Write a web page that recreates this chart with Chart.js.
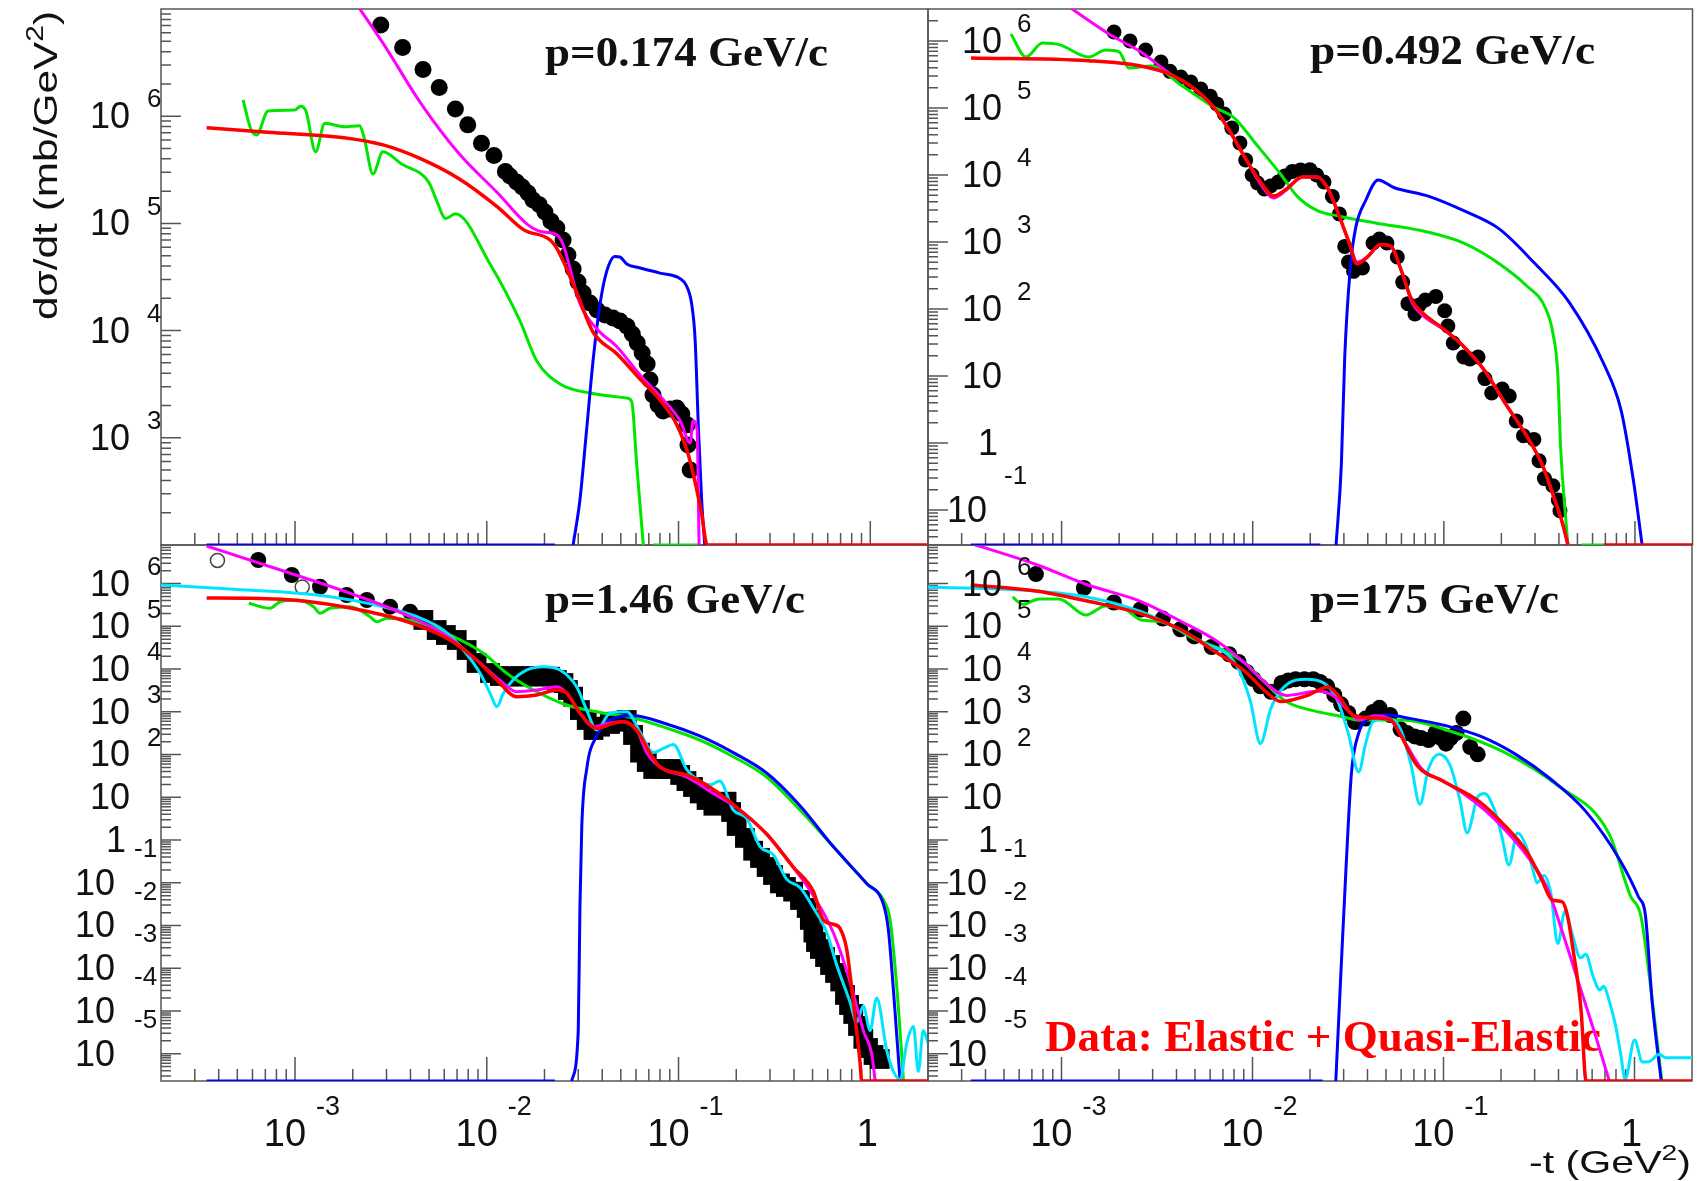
<!DOCTYPE html>
<html>
<head>
<meta charset="utf-8">
<script src="https://cdn.jsdelivr.net/npm/chart.js@4.4.0/dist/chart.umd.min.js"></script>
<style>
  body { margin: 0; background: #fff; }
  #wrap { position: relative; width: 1700px; height: 1181px; }
  #wrap canvas { position: absolute; left: 0; top: 0; }
</style>
</head>
<body>
<div id="wrap">
  <canvas id="bl" width="1700" height="1181"></canvas>
  <canvas id="br" width="1700" height="1181"></canvas>
  <canvas id="tl" width="1700" height="1181"></canvas>
  <canvas id="tr" width="1700" height="1181"></canvas>
</div>
<script>
// -t range shared by all four pads
const X_MIN = 2e-4, X_MAX = 2;
const X_EXPS = [-3, -2, -1, 0];

// ---- p = 0.174 GeV/c ----
const tlDataT = [2.8e-3, 3.64e-3, 4.65e-3, 5.65e-3, 6.86e-3, 7.96e-3, 9.38e-3, 1.09e-2, 1.25e-2, 1.32e-2, 1.43e-2, 1.53e-2, 1.64e-2, 1.74e-2, 1.88e-2, 2.01e-2, 2.16e-2, 2.32e-2, 2.5e-2, 2.65e-2, 2.82e-2, 2.99e-2, 3.18e-2, 3.45e-2, 3.76e-2, 4.13e-2, 4.55e-2, 4.95e-2, 5.39e-2, 5.74e-2, 6.09e-2, 6.46e-2, 6.86e-2, 7.1e-2, 7.36e-2, 7.82e-2, 8.3e-2, 9.02e-2, 9.8e-2, 0.104, 0.111, 0.112, 0.115];
const tlDataV = [7.1e6, 4.38e6, 2.72e6, 1.85e6, 1.17e6, 8.3e5, 5.6e5, 4.3e5, 3.05e5, 2.77e5, 2.43e5, 2.19e5, 1.92e5, 1.65e5, 1.49e5, 1.28e5, 1.05e5, 9.06e4, 7.0e4, 5.07e4, 3.76e4, 2.84e4, 2.24e4, 1.81e4, 1.56e4, 1.4e4, 1.31e4, 1.23e4, 1.1e4, 9.3e3, 7.66e3, 6.18e3, 4.88e3, 3.46e3, 2.51e3, 2.02e3, 1.78e3, 1.86e3, 1.9e3, 1.67e3, 1.32e3, 857, 501];
const tlRedT = [3.46e-4, 7.2e-4, 1.8e-3, 2.88e-3, 4.54e-3, 7.2e-3, 1.14e-2, 1.56e-2, 2.14e-2, 2.35e-2, 2.95e-2, 3.58e-2, 4.78e-2, 6.3e-2, 8.0e-2, 9.8e-2, 0.112, 0.122, 0.132, 0.141, 2.0];
const tlRedV = [7.8e5, 7.1e5, 6.3e5, 5.4e5, 4.0e5, 2.6e5, 1.42e5, 8.7e4, 7.0e4, 5.6e4, 2.24e4, 9.7e3, 6.05e3, 3.54e3, 2.25e3, 1.32e3, 713, 387, 195, 100, 100];
const tlMagT = [1.94e-3, 2.87e-3, 4.54e-3, 7.16e-3, 1.14e-2, 1.64e-2, 1.97e-2, 2.27e-2, 2.48e-2, 3.06e-2, 3.74e-2, 4.76e-2, 6.3e-2, 8.0e-2, 0.102, 0.115, 0.119, 0.125, 0.128];
const tlMagV = [1.35e7, 4.83e6, 1.31e6, 4.48e5, 1.92e5, 9.7e4, 8.3e4, 8.0e4, 6.6e4, 1.79e4, 1.04e4, 7.1e3, 3.85e3, 2.45e3, 1.44e3, 894, 1.44e3, 1.18e3, 100];
const tlGreenT = [5.36e-4, 5.87e-4, 6.3e-4, 7.23e-4, 9.96e-4, 1.07e-3, 1.14e-3, 1.28e-3, 1.43e-3, 1.81e-3, 2.17e-3, 2.28e-3, 2.55e-3, 2.87e-3, 3.6e-3, 4.98e-3, 5.46e-3, 6.11e-3, 6.86e-3, 1.04e-2, 1.49e-2, 1.82e-2, 2.41e-2, 3.45e-2, 5.37e-2, 5.7e-2, 6.05e-2, 6.55e-2, 7.0e-2, 7.36e-2, 0.129];
const tlGreenV = [1.42e6, 7.66e5, 6.68e5, 1.12e6, 1.14e6, 1.24e6, 1.12e6, 4.66e5, 8.6e5, 7.97e5, 8.15e5, 6.58e5, 2.89e5, 4.66e5, 3.58e5, 2.43e5, 1.65e5, 1.11e5, 1.23e5, 4.18e4, 1.23e4, 5.24e3, 3.18e3, 2.62e3, 2.35e3, 2.17e3, 570, 100, null, 100, 100];
const tlBlueT = [3.46e-4, 2.27e-2, 2.5e-2, 2.82e-2, 3.06e-2, 3.32e-2, 3.6e-2, 3.9e-2, 4.22e-2, 4.66e-2, 4.95e-2, 5.37e-2, 6.3e-2, 8.0e-2, 0.102, 0.110, 0.117, 0.122, 0.127, 0.132, 0.137];
const tlBlueV = [100, 100, null, 100, 263, 1.22e3, 5.67e3, 1.79e4, 3.57e4, 4.92e4, 4.86e4, 4.18e4, 3.84e4, 3.44e4, 3.05e4, 2.62e4, 1.79e4, 8.35e3, 1.22e3, 263, 100];

// ---- p = 0.492 GeV/c ----
const trDataT = [1.88e-3, 2.28e-3, 2.75e-3, 3.31e-3, 3.69e-3, 4.21e-3, 4.74e-3, 5.35e-3, 6.0e-3, 6.49e-3, 7.1e-3, 7.77e-3, 8.57e-3, 9.19e-3, 9.93e-3, 1.06e-2, 1.15e-2, 1.24e-2, 1.36e-2, 1.47e-2, 1.61e-2, 1.78e-2, 1.99e-2, 2.16e-2, 2.36e-2, 2.61e-2, 2.84e-2, 3.03e-2, 3.17e-2, 3.37e-2, 3.75e-2, 4.26e-2, 4.6e-2, 5.04e-2, 5.71e-2, 6.09e-2, 6.49e-2, 7.06e-2, 7.44e-2, 8.0e-2, 9.08e-2, 0.101, 0.105, 0.112, 0.127, 0.137, 0.151, 0.164, 0.178, 0.202, 0.22, 0.239, 0.261, 0.296, 0.315, 0.336, 0.372, 0.397, 0.405];
const trDataV = [1.36e6, 9.98e5, 7.33e5, 4.85e5, 3.52e5, 2.9e5, 2.44e5, 1.92e5, 1.49e5, 1.15e5, 8.13e4, 5.02e4, 3.0e4, 1.67e4, 9.98e3, 7.59e3, 6.17e3, 6.84e3, 7.85e3, 9.64e3, 1.13e4, 1.19e4, 1.2e4, 9.98e3, 7.85e3, 4.79e3, 2.61e3, 859, 502, 364, 408, 964, 1.11e3, 964, 597, 252, 120, 84.1, 115, 136, 154, 94.2, 55.7, 31.0, 19.2, 17.9, 19.2, 9.14, 5.57, 6.38, 5.02, 2.13, 1.28, 1.13, 0.543, 0.294, 0.23, 0.141, 0.0975];
const trRedT = [3.36e-4, 1.38e-3, 2.59e-3, 3.78e-3, 4.85e-3, 6.24e-3, 7.54e-3, 9.08e-3, 1.1e-2, 1.29e-2, 1.5e-2, 1.82e-2, 2.18e-2, 2.48e-2, 2.81e-2, 3.2e-2, 3.52e-2, 3.98e-2, 4.66e-2, 5.29e-2, 6.0e-2, 6.8e-2, 7.7e-2, 9.9e-2, 0.127, 0.164, 0.21, 0.271, 0.326, 0.381, 0.42, 0.446, 0.5, 0.687, 2.0];
const trRedV = [5.58e5, 5.07e5, 4.23e5, 3.1e5, 2.02e5, 1.03e5, 4.62e4, 1.85e4, 7.85e3, 4.85e3, 6.17e3, 9.33e3, 9.33e3, 6.17e3, 2.61e3, 964, 469, 597, 914, 859, 369, 136, 88.5, 50.9, 27.6, 11.9, 3.86, 1.28, 0.485, 0.141, 0.0597, 0.03, null, 0.03, 0.03];
const trMagT = [9.7e-4, 1.77e-3, 2.59e-3, 3.78e-3, 4.85e-3, 6.24e-3, 7.54e-3, 9.08e-3, 1.1e-2, 1.29e-2, 1.5e-2, 1.82e-2, 2.18e-2, 2.48e-2, 2.81e-2, 3.2e-2, 3.52e-2, 3.98e-2, 4.66e-2, 5.29e-2, 6.0e-2, 6.8e-2, 7.7e-2, 9.9e-2, 0.127, 0.164, 0.21, 0.271, 0.326, 0.381, 0.42, 0.446];
const trMagV = [4.08e6, 1.27e6, 6.89e5, 3.1e5, 2.02e5, 1.03e5, 4.62e4, 1.85e4, 7.3e3, 4.53e3, 5.96e3, 9.33e3, 9.33e3, 6.17e3, 2.61e3, 964, 502, 597, 914, 859, 369, 127, 81.3, 50, 27.6, 11.9, 3.86, 1.28, 0.485, 0.141, 0.0597, 0.03];
const trGreenT = [5.43e-4, 6.52e-4, 7.93e-4, 9.7e-4, 1.39e-3, 1.7e-3, 2.0e-3, 2.25e-3, 2.94e-3, 4.26e-3, 6.24e-3, 8.02e-3, 1.03e-2, 1.41e-2, 1.71e-2, 2.18e-2, 2.81e-2, 4.38e-2, 8.18e-2, 0.127, 0.185, 0.271, 0.338, 0.371, 0.395, 0.408, 0.434, 0.446, 0.49, 0.524, 0.687];
const trGreenV = [1.27e6, 5.77e5, 9.33e5, 8.83e5, 5.77e5, 7.33e5, 6.89e5, 3.96e5, 4.23e5, 2.15e5, 1.03e5, 7.08e4, 3.0e4, 9.98e3, 4.79e3, 2.93e3, 2.44e3, 1.92e3, 1.41e3, 964, 525, 222, 107, 45.3, 10.3, 0.9, 0.0759, 0.03, null, 0.03, 0.03];
const trBlueT = [3.35e-4, 2.26e-2, 2.5e-2, 2.73e-2, 2.91e-2, 3.03e-2, 3.24e-2, 3.45e-2, 3.91e-2, 4.53e-2, 5.47e-2, 8.35e-2, 0.127, 0.194, 0.296, 0.451, 0.687, 0.847, 0.984, 1.09];
const trBlueV = [0.03, 0.03, null, 0.03, 0.485, 19.2, 408, 1.58e3, 4.23e3, 8.41e3, 6.5e3, 4.79e3, 2.93e3, 1.58e3, 493, 128, 15.1, 3.03, 0.261, 0.03];

// ---- p = 1.46 GeV/c ----
const blDotT = [6.43e-4, 9.62e-4, 1.35e-3, 1.86e-3, 2.37e-3, 3.13e-3, 3.98e-3];
const blDotV = [3.56e6, 1.59e6, 8.45e5, 5.41e5, 4.13e5, 2.88e5, 2.2e5];
const blBandT = [4.67e-3, 5.48e-3, 6.12e-3, 6.97e-3, 7.85e-3, 8.85e-3, 1.04e-2, 1.17e-2, 1.32e-2, 1.49e-2, 1.68e-2, 1.9e-2, 2.14e-2, 2.32e-2, 2.51e-2, 2.65e-2, 2.82e-2, 3.06e-2, 3.32e-2, 3.6e-2, 3.9e-2, 4.39e-2, 4.76e-2, 5.37e-2, 5.79e-2, 6.3e-2, 6.83e-2, 7.38e-2, 8.3e-2, 9.4e-2, 0.102, 0.11, 0.119, 0.129, 0.14, 0.152, 0.164, 0.178, 0.188, 0.201, 0.222, 0.245, 0.266, 0.288, 0.311, 0.338, 0.363, 0.396, 0.43, 0.466, 0.484, 0.505, 0.521, 0.546, 0.581, 0.617, 0.655, 0.697, 0.738, 0.775, 0.815, 0.863, 0.92, 0.973, 1.04, 1.12];
const blBandV = [1.41e5, 8.2e4, 6.27e4, 4.79e4, 2.79e4, 1.39e4, 8.09e3, 6.89e3, 6.64e3, 6.89e3, 6.64e3, 6.89e3, 6.64e3, 5.55e3, 4.72e3, 3.24e3, 2.26e3, 1.1e3, 643, 375, 449, 519, 587, 643, 287, 111, 67, 45.9, 45.9, 45.9, 33.3, 24.0, 17.4, 12.3, 8.65, 6.35, 7.35, 7.89, 4.53, 2.13, 1.12, 0.562, 0.38, 0.234, 0.152, 0.0966, 0.0796, 0.0621, 0.0395, 0.0257, 0.0135, 0.00686, 0.00411, 0.00282, 0.00183, 0.00119, 7.74e-4, 4.9e-4, 2.37e-4, 1.38e-4, 8.51e-5, 4.46e-5, 2.23e-5, 1.36e-5, 9.33e-6, 7.53e-6];
const blOpenT = [3.94e-4, 1.09e-3];
const blOpenV = [3.49e6, 8.32e5];
const blRedT = [3.46e-4, 5.82e-4, 1.14e-3, 2.88e-3, 4.32e-3, 6.43e-3, 8.85e-3, 1.13e-2, 1.43e-2, 1.82e-2, 2.32e-2, 2.61e-2, 3.06e-2, 3.74e-2, 4.57e-2, 5.15e-2, 6.05e-2, 7.1e-2, 8.0e-2, 0.11, 0.152, 0.209, 0.288, 0.396, 0.505, 0.569, 0.641, 0.695, 0.753, 0.815, 0.885, 0.902, 2.0];
const blRedV = [4.6e5, 4.53e5, 3.85e5, 1.84e5, 1.07e5, 4.79e4, 1.63e4, 5.55e3, 2.26e3, 2.47e3, 3.24e3, 2.75e3, 938, 411, 538, 587, 375, 109, 51.2, 33.3, 15.3, 5.05, 1.38, 0.234, 0.0621, 0.0135, 0.0107, 0.00857, 0.00282, 1.62e-4, 6.07e-6, 2.3e-6, 2.3e-6];
const blMagT = [3.46e-4, 7.23e-4, 1.94e-3, 3.98e-3, 6.43e-3, 8.85e-3, 1.22e-2, 1.43e-2, 1.82e-2, 2.32e-2, 2.61e-2, 3.06e-2, 3.6e-2, 4.39e-2, 5.15e-2, 6.05e-2, 6.83e-2, 8.0e-2, 0.11, 0.152, 0.209, 0.288, 0.396, 0.505, 0.641, 0.784, 0.92, 1.02, 1.06];
const blMagV = [7.59e6, 2.58e6, 5.93e5, 1.68e5, 5.25e4, 1.63e4, 4.65e3, 2.96e3, 3.24e3, 3.87e3, 2.75e3, 938, 449, 547, 587, 375, 111, 51.2, 29.9, 12.3, 5.05, 1.38, 0.234, 0.0499, 0.00686, 4.9e-4, 3.48e-5, 9.33e-6, 2.3e-6];
const blGreenT = [5.74e-4, 7.4e-4, 8.35e-4, 1.02e-3, 1.25e-3, 1.35e-3, 1.52e-3, 1.94e-3, 2.46e-3, 2.67e-3, 3.01e-3, 4.32e-3, 6.43e-3, 9.6e-3, 1.27e-2, 1.75e-2, 2.61e-2, 3.9e-2, 5.81e-2, 8.67e-2, 0.129, 0.193, 0.288, 0.43, 0.641, 0.957, 1.17, 1.27, 1.35, 1.43, 1.49];
const blGreenV = [3.46e5, 2.64e5, 3.77e5, 4.13e5, 2.88e5, 2.02e5, 2.64e5, 2.88e5, 1.68e5, 1.28e5, 1.54e5, 1.28e5, 6.27e4, 2.34e4, 7.96e3, 3.24e3, 1.44e3, 964, 716, 418, 219, 89.1, 29.9, 5.05, 0.702, 0.0966, 0.04, 0.0135, 9.6e-4, 3.48e-5, 2.3e-6];
const blBlueT = [3.46e-4, 2.27e-2, 2.5e-2, 2.77e-2, 3.0e-2, 3.06e-2, 3.13e-2, 3.32e-2, 3.74e-2, 4.39e-2, 5.81e-2, 8.67e-2, 0.129, 0.193, 0.288, 0.43, 0.641, 0.957, 1.17, 1.24, 1.32, 1.43];
const blBlueV = [2.3e-6, 2.3e-6, null, 2.3e-6, 3.48e-5, 0.0257, 2.13, 45.9, 272, 643, 807, 519, 272, 111, 37, 6.35, 0.702, 0.0966, 0.0318, 0.00857, 3.15e-4, 2.3e-6];
const blCyanT = [2.0e-4, 4.56e-4, 1.3e-3, 2.88e-3, 4.32e-3, 5.93e-3, 7.55e-3, 9.23e-3, 1.04e-2, 1.13e-2, 1.22e-2, 1.37e-2, 1.61e-2, 1.97e-2, 2.41e-2, 2.94e-2, 3.32e-2, 3.74e-2, 4.39e-2, 5.37e-2, 6.3e-2, 7.38e-2, 8.32e-2, 9.4e-2, 0.11, 0.129, 0.146, 0.164, 0.193, 0.226, 0.266, 0.312, 0.366, 0.43, 0.505, 0.593, 0.668, 0.784, 0.849, 0.92, 0.998, 1.08, 1.22, 1.32, 1.43, 1.55, 1.68, 1.78, 1.89, 2.0];
const blCyanV = [9.27e5, 7.48e5, 5.41e5, 2.88e5, 1.68e5, 8.2e4, 2.79e4, 7.96e3, 2.71e3, 1.32e3, 2.71e3, 5.55e3, 9.5e3, 1.14e4, 9.5e3, 3.87e3, 1.1e3, 375, 923, 1.0e3, 337, 111, 139, 173, 45.9, 24, 19.4, 24, 5.05, 3.28, 0.702, 0.452, 0.122, 0.0776, 0.0257, 0.00686, 0.00119, 1.62e-4, 5.41e-5, 1.31e-4, 3.48e-5, 2.01e-4, 1.16e-5, 3.84e-6, 2.47e-6, 1.78e-5, 4.34e-5, 3.84e-6, 3.48e-5, 1.78e-5];

// ---- p = 175 GeV/c ----
const brDataT = [7.35e-4, 1.31e-3, 1.88e-3, 2.59e-3, 3.39e-3, 4.19e-3, 4.95e-3, 6.11e-3, 7.55e-3, 8.45e-3, 9.33e-3, 1.01e-2, 1.1e-2, 1.25e-2, 1.42e-2, 1.54e-2, 1.68e-2, 1.87e-2, 2.08e-2, 2.26e-2, 2.46e-2, 2.68e-2, 2.91e-2, 3.17e-2, 3.44e-2, 3.91e-2, 4.28e-2, 4.62e-2, 5.25e-2, 5.96e-2, 6.44e-2, 7.06e-2, 7.62e-2, 8.35e-2, 9.08e-2, 9.69e-2, 0.103, 0.109, 0.117, 0.127, 0.138, 0.151];
const brDataV = [1.67e6, 7.89e5, 3.61e5, 2.48e5, 1.52e5, 8.53e4, 5.81e4, 3.28e4, 2.22e4, 1.47e4, 8.55e3, 5.86e3, 3.94e3, 2.94e3, 4.74e3, 5.41e3, 5.77e3, 5.77e3, 5.77e3, 4.99e3, 3.94e3, 2.47e3, 1.5e3, 938, 578, 693, 991, 1.24e3, 841, 390, 319, 266, 244, 219, 321, 244, 180, 244, 321, 693, 150, 101];
const brRedT = [3.35e-4, 7.36e-4, 1.38e-3, 2.59e-3, 4.26e-3, 6.24e-3, 9.08e-3, 1.17e-2, 1.41e-2, 1.94e-2, 2.48e-2, 2.81e-2, 3.4e-2, 4.38e-2, 5.29e-2, 6.0e-2, 7.23e-2, 9.93e-2, 0.154, 0.21, 0.271, 0.326, 0.371, 0.42, 0.446, 0.476, 0.525, 0.558, 2.0];
const brRedV = [9.27e5, 6.71e5, 3.85e5, 1.99e5, 8.2e4, 2.73e4, 9.02e3, 3.02e3, 1.74e3, 2.42e3, 3.81e3, 2.42e3, 807, 716, 643, 272, 57, 24, 7.89, 2.13, 0.562, 0.121, 0.0395, 0.0355, 0.0167, 0.00285, 1.05e-4, 2.3e-6, 2.3e-6];
const brMagT = [2.92e-4, 7.36e-4, 1.38e-3, 2.59e-3, 4.26e-3, 6.64e-3, 9.08e-3, 1.17e-2, 1.5e-2, 2.18e-2, 2.64e-2, 3.2e-2, 3.62e-2, 4.38e-2, 5.29e-2, 6.37e-2, 7.71e-2, 9.93e-2, 0.127, 0.164, 0.21, 0.271, 0.348, 0.42, 0.507, 0.613, 0.738];
const brMagV = [1.05e7, 2.8e6, 9.27e5, 3.85e5, 1.28e5, 4.26e4, 1.41e4, 4.72e3, 2.42e3, 3.02e3, 2.42e3, 1.01e3, 643, 807, 643, 173, 45.9, 24.0, 12.3, 5.05, 1.72, 0.452, 0.0776, 0.00686, 4.9e-4, 3.48e-5, 2.3e-6];
const brGreenT = [5.55e-4, 6.25e-4, 7.64e-4, 9.7e-4, 1.34e-3, 1.7e-3, 2.17e-3, 2.59e-3, 3.33e-3, 4.85e-3, 7.05e-3, 9.08e-3, 1.17e-2, 1.5e-2, 2.18e-2, 2.81e-2, 3.62e-2, 6.0e-2, 0.112, 0.21, 0.395, 0.738, 0.951, 1.08, 1.22, 1.39];
const brGreenV = [4.85e5, 3.28e5, 4.39e5, 4.39e5, 1.84e5, 2.99e5, 2.47e5, 1.43e5, 1.28e5, 5.33e4, 2.73e4, 1.41e4, 4.72e3, 1.74e3, 1.01e3, 807, 643, 643, 337, 111, 19.1, 1.36, 0.0498, 0.0167, 3.15e-4, 2.3e-6];
const brBlueT = [3.35e-4, 2.33e-2, 2.5e-2, 2.73e-2, 2.91e-2, 3.1e-2, 3.3e-2, 3.6e-2, 4.08e-2, 5.03e-2, 6.76e-2, 0.103, 0.157, 0.239, 0.365, 0.556, 0.847, 1.05, 1.14, 1.24, 1.38];
const brBlueV = [2.3e-6, 2.3e-6, null, 2.3e-6, 9.82e-4, 0.316, 39.1, 319, 693, 841, 693, 473, 266, 101, 26.4, 4.68, 0.316, 0.0465, 0.0176, 1.46e-4, 2.3e-6];
const brCyanT = [2.0e-4, 7.36e-4, 1.38e-3, 2.59e-3, 3.78e-3, 5.48e-3, 8.22e-3, 9.73e-3, 1.1e-2, 1.25e-2, 1.55e-2, 1.91e-2, 2.36e-2, 2.79e-2, 3.17e-2, 3.6e-2, 3.91e-2, 4.26e-2, 5.03e-2, 5.96e-2, 6.76e-2, 7.52e-2, 8.35e-2, 9.47e-2, 0.108, 0.122, 0.133, 0.151, 0.164, 0.186, 0.202, 0.22, 0.244, 0.272, 0.296, 0.308, 0.336, 0.365, 0.397, 0.432, 0.47, 0.522, 0.556, 0.605, 0.659, 0.687, 0.745, 0.796, 0.847, 0.893, 1.0, 1.1, 1.19, 1.35, 1.46, 2.0];
const brCyanV = [8.32e5, 6.71e5, 4.81e5, 2.22e5, 1.02e5, 4.26e4, 1.24e4, 1.82e3, 180, 1.24e3, 4.74e3, 5.77e3, 4.74e3, 1.82e3, 319, 39.1, 180, 578, 693, 390, 57, 6.85, 46.9, 101, 57, 8.32, 1.47, 10.2, 12.2, 4.68, 1.22, 0.261, 1.47, 0.687, 0.179, 0.0993, 0.147, 0.0558, 0.00378, 0.0214, 0.00671, 0.00175, 0.00212, 6.7e-4, 3.1e-4, 3.77e-4, 1.46e-4, 4.53e-5, 9.7e-6, 2.5e-6, 2.09e-5, 6.41e-6, 6.5e-6, 9.7e-6, 8.0e-6, 8.0e-6];

const RED = '#ff0000', MAG = '#ff00ff', GRN = '#00e600', BLU = '#0000ff', CYN = '#00e5ff';
const SANS = '"Liberation Sans", Arial, sans-serif';
const SERIF = '"Liberation Serif", "Times New Roman", serif';

function pts(ts, vs) {
  return ts.map((t, i) => ({ x: t, y: vs[i] }));
}

function curve(ts, vs, color, width, order) {
  return {
    data: pts(ts, vs), showLine: true, borderColor: color, backgroundColor: color,
    borderWidth: width, pointRadius: 0, pointHoverRadius: 0,
    cubicInterpolationMode: 'monotone', spanGaps: false, order: order
  };
}

function dots(ts, vs, style, r, order, hollow) {
  return {
    data: pts(ts, vs), showLine: false, pointStyle: style, pointRadius: r,
    pointBackgroundColor: hollow ? 'rgba(0,0,0,0)' : '#000',
    pointBorderColor: hollow ? '#444' : '#000', pointBorderWidth: hollow ? 1.5 : 0,
    order: order
  };
}

// text runs, optionally squeezed/stretched to a target width
function rich(ctx, segs, x, y, width) {
  let total = 0;
  segs.forEach(s => { ctx.font = s.font; s.w = ctx.measureText(s.t).width; total += s.w; });
  const sx = width ? width / total : 1;
  ctx.save();
  ctx.translate(x, y);
  ctx.scale(sx, 1);
  ctx.textAlign = 'left';
  ctx.textBaseline = 'alphabetic';
  let cx = 0;
  segs.forEach(s => { ctx.font = s.font; ctx.fillText(s.t, cx, s.dy || 0); cx += s.w; });
  ctx.restore();
}

function yTickLabel(ctx, axisX, py, e, side) {
  const left = side < 0;
  ctx.fillStyle = '#111';
  ctx.textBaseline = 'middle';
  ctx.font = '36px ' + SANS;
  ctx.textAlign = 'right';
  if (e === 0) {
    ctx.fillText('1', axisX + (left ? -35 : 70), py + 2);
    return;
  }
  const neg = e < 0;
  ctx.fillText('10', axisX + (left ? (neg ? -46 : -31) : (neg ? 59 : 74)), py + 2);
  if (e === 1) return;
  ctx.font = '26px ' + SANS;
  ctx.textAlign = 'left';
  ctx.fillText(String(e), axisX + (left ? (neg ? -27 : -14) : (neg ? 76 : 89)), py + (neg ? -33 : -16));
}

function xTickLabel(ctx, px, e) {
  ctx.fillStyle = '#111';
  ctx.textBaseline = 'middle';
  ctx.font = '38px ' + SANS;
  if (e === 0) {
    ctx.textAlign = 'center';
    ctx.fillText('1', px - 3, 1136);
    return;
  }
  ctx.textAlign = 'right';
  ctx.fillText('10', px + 11, 1136);
  ctx.font = '27px ' + SANS;
  ctx.textAlign = 'left';
  ctx.fillText(String(e), px + 21, 1108);
}

function panelPlugin(p) {
  return {
    id: 'rootPad_' + p.id,
    beforeDatasetsDraw(chart) {
      const { ctx, chartArea: a, scales: { x, y } } = chart;
      ctx.save();
      ctx.strokeStyle = '#555';
      ctx.lineWidth = 1.5;
      ctx.strokeRect(a.left, a.top, a.right - a.left, a.bottom - a.top);
      ctx.beginPath();
      for (let e = -4; e <= 1; e++) {
        for (let k = 1; k <= 9; k++) {
          const v = k * Math.pow(10, e);
          if (v <= X_MIN || v >= X_MAX) continue;
          const px = x.getPixelForValue(v);
          ctx.moveTo(px, a.bottom);
          ctx.lineTo(px, a.bottom - (k === 1 ? 24 : 12));
        }
      }
      for (let e = -7; e <= 7; e++) {
        for (let k = 1; k <= 9; k++) {
          const v = k * Math.pow(10, e);
          if (v <= p.yMin || v >= p.yMax) continue;
          const py = y.getPixelForValue(v);
          ctx.moveTo(a.left, py);
          ctx.lineTo(a.left + (k === 1 ? 20 : 10), py);
        }
      }
      ctx.stroke();
      // pad title
      ctx.fillStyle = '#111';
      rich(ctx, [{ t: p.title, font: 'bold 43px ' + SERIF }], p.titlePos[0], p.titlePos[1], p.titlePos[2]);
      if (p.note) {
        ctx.fillStyle = RED;
        rich(ctx, [{ t: 'Data: Elastic + Quasi-Elastic', font: 'bold 44px ' + SERIF }], 1045, 1051, 556);
      }
      ctx.restore();
    },
    afterDraw(chart) {
      const { ctx, chartArea: a, scales: { x, y } } = chart;
      ctx.save();
      p.exps.forEach(e => yTickLabel(ctx, a.left, y.getPixelForValue(Math.pow(10, e)), e, p.side));
      if (p.xLabels) {
        X_EXPS.forEach(e => xTickLabel(ctx, x.getPixelForValue(Math.pow(10, e)), e));
      }
      if (p.yTitle) {
        ctx.fillStyle = '#111';
        ctx.translate(57, 320);
        ctx.rotate(-Math.PI / 2);
        rich(ctx, [
          { t: 'd\u03c3/dt (mb/GeV', font: '34px ' + SANS },
          { t: '2', font: '24px ' + SANS, dy: -14 },
          { t: ')', font: '34px ' + SANS }
        ], 0, 0, 309);
        ctx.setTransform(1, 0, 0, 1, 0, 0);
      }
      if (p.xTitle) {
        ctx.fillStyle = '#111';
        rich(ctx, [
          { t: '-t (GeV', font: '32px ' + SANS },
          { t: '2', font: '22px ' + SANS, dy: -13 },
          { t: ')', font: '32px ' + SANS }
        ], 1529, 1173, 162);
      }
      ctx.restore();
    }
  };
}

const panels = [
  {
    id: 'tl', area: [161, 9, 928, 545], yMin: 1e2, yMax: 1e7, exps: [3, 4, 5, 6], side: -1,
    title: 'p=0.174 GeV/c', titlePos: [545, 66, 283], yTitle: true,
    sets: [
      curve(tlRedT, tlRedV, RED, 3.5, 1),
      curve(tlMagT, tlMagV, MAG, 3, 2),
      curve(tlBlueT, tlBlueV, BLU, 3, 4),
      curve(tlGreenT, tlGreenV, GRN, 3, 5),
      dots(tlDataT, tlDataV, 'circle', 8.5, 6)
    ]
  },
  {
    id: 'tr', area: [928, 9, 1695, 545], yMin: 0.03, yMax: 3e6, exps: [-1, 0, 1, 2, 3, 4, 5, 6], side: 1,
    title: 'p=0.492 GeV/c', titlePos: [1310, 64, 285],
    sets: [
      curve(trRedT, trRedV, RED, 3.5, 1),
      curve(trMagT, trMagV, MAG, 3, 2),
      curve(trBlueT, trBlueV, BLU, 3, 4),
      curve(trGreenT, trGreenV, GRN, 3, 5),
      dots(trDataT, trDataV, 'circle', 7.5, 6)
    ]
  },
  {
    id: 'bl', area: [161, 545, 928, 1081], yMin: 2.3e-6, yMax: 8e6,
    exps: [-5, -4, -3, -2, -1, 0, 1, 2, 3, 4, 5, 6], side: -1, xLabels: true,
    title: 'p=1.46 GeV/c', titlePos: [545, 613, 260],
    sets: [
      curve(blRedT, blRedV, RED, 3.5, 1),
      curve(blMagT, blMagV, MAG, 3, 2),
      curve(blCyanT, blCyanV, CYN, 3, 3),
      curve(blBlueT, blBlueV, BLU, 3, 4),
      curve(blGreenT, blGreenV, GRN, 3, 5),
      dots(blDotT, blDotV, 'circle', 8, 6),
      dots(blBandT, blBandV, 'rect', 14, 7),
      dots(blOpenT, blOpenV, 'circle', 7, 8, true)
    ]
  },
  {
    id: 'br', area: [928, 545, 1695, 1081], yMin: 2.3e-6, yMax: 8e6,
    exps: [-5, -4, -3, -2, -1, 0, 1, 2, 3, 4, 5, 6], side: 1, xLabels: true,
    title: 'p=175 GeV/c', titlePos: [1310, 613, 249], note: true, xTitle: true,
    sets: [
      curve(brRedT, brRedV, RED, 3.5, 1),
      curve(brMagT, brMagV, MAG, 3, 2),
      curve(brCyanT, brCyanV, CYN, 3, 3),
      curve(brBlueT, brBlueV, BLU, 3, 4),
      curve(brGreenT, brGreenV, GRN, 3, 5),
      dots(brDataT, brDataV, 'circle', 8, 6)
    ]
  }
];

panels.forEach(p => {
  const [l, t, r, b] = p.area;
  new Chart(document.getElementById(p.id), {
    type: 'scatter',
    data: { datasets: p.sets },
    options: {
      responsive: false,
      animation: false,
      devicePixelRatio: 1,
      events: [],
      layout: { padding: { left: l, top: t, right: 1700 - r, bottom: 1181 - b } },
      plugins: { legend: { display: false }, tooltip: { enabled: false } },
      scales: {
        x: { type: 'logarithmic', min: X_MIN, max: X_MAX, display: false },
        y: { type: 'logarithmic', min: p.yMin, max: p.yMax, display: false }
      }
    },
    plugins: [panelPlugin(p)]
  });
});
</script>
</body>
</html>
